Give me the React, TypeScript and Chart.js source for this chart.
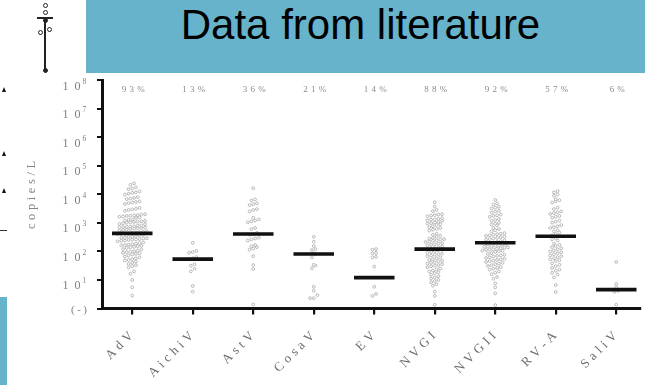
import React, { useEffect, useRef } from "react";
import { Chart, registerables } from "chart.js";

Chart.register(...registerables);

// ---------- data ----------
const categories = ["AdV", "AichiV", "AstV", "CosaV", "EV", "NVGI", "NVGII", "RV-A", "SaliV"];
const detectionRates = ["93%", "13%", "36%", "21%", "14%", "88%", "92%", "57%", "6%"];
// medians, log10(copies/L)
const medianLog = [2.63, 1.73, 2.61, 1.91, 1.08, 2.08, 2.30, 2.53, 0.66];
const yTickExponents = [1, 2, 3, 4, 5, 6, 7, 8];

// individual samples, log10(copies/L)
const advLog = [
  4.38, 4.33, 4.24, 4.2, 4.18, 4.1, 4.07, 4.05, 4.02, 3.99, 3.9, 3.87, 3.85, 3.83,
  3.75, 3.73, 3.71, 3.69, 3.66, 3.52, 3.49, 3.47, 3.45, 3.42,
  3.3, 3.29, 3.27, 3.26, 3.25, 3.24, 3.22, 3.21, 3.19, 3.17,
  3.12, 3.1, 3.08, 3.07, 3.05, 3.04, 3.03, 3.01, 3.0, 2.98, 2.96, 2.95,
  2.91, 2.9, 2.88, 2.87, 2.86, 2.85, 2.84, 2.83, 2.82, 2.81, 2.8, 2.78, 2.77, 2.75,
  2.72, 2.7, 2.68, 2.67, 2.66, 2.65, 2.63, 2.62, 2.61, 2.6, 2.58, 2.56,
  2.53, 2.51, 2.5, 2.48, 2.47, 2.46, 2.45, 2.43, 2.42, 2.41, 2.4, 2.38, 2.37, 2.35,
  2.31, 2.29, 2.27, 2.25, 2.24, 2.22, 2.21, 2.19, 2.18, 2.16, 2.14, 2.12,
  2.08, 2.06, 2.03, 2.01, 1.99, 1.97, 1.95, 1.93, 1.91, 1.89,
  1.85, 1.82, 1.79, 1.76, 1.73, 1.7, 1.68, 1.65,
  1.6, 1.56, 1.52, 1.48, 1.44, 1.3, 1.22, 1.0, 0.74, 0.45,
];
const aichivLog = [2.3, 2.02, 1.98, 1.95, 1.8, 1.76, 1.73, 1.55, 1.5, 1.39, 1.3, 0.79, 0.59];
const astvLog = [
  4.21, 3.82, 3.78, 3.68, 3.65, 3.62, 3.48, 3.45, 3.4, 3.18, 3.12, 3.08, 3.05, 3.02,
  2.82, 2.78, 2.65, 2.6, 2.58, 2.48, 2.45, 2.42, 2.38, 2.22, 2.18, 2.15, 2.1, 2.06,
  1.83, 1.52, 1.38, 0.14,
];
const cosavLog = [2.51, 2.34, 2.19, 2.08, 2.05, 1.93, 1.9, 1.79, 1.53, 1.5, 1.41, 0.76, 0.62, 0.47, 0.36, 0.36];
const evLog = [2.08, 2.06, 1.95, 1.93, 1.81, 1.79, 1.47, 0.76, 0.51, 0.44];
const nvgiLog = [
  3.72, 3.57, 3.45, 3.41, 3.3, 3.29, 3.27, 3.25, 3.23,
  3.16, 3.14, 3.12, 3.11, 3.09, 3.07, 3.03, 3.01, 2.99, 2.97, 2.95, 2.93,
  2.88, 2.85, 2.82, 2.79, 2.76, 2.73, 2.62, 2.58, 2.55, 2.51,
  2.47, 2.45, 2.43, 2.41, 2.39, 2.37, 2.35, 2.33, 2.29, 2.27, 2.25, 2.23, 2.21, 2.18,
  2.14, 2.12, 2.1, 2.08, 2.06, 2.04, 2.01, 1.98, 1.95, 1.92, 1.9, 1.88, 1.85, 1.83,
  1.79, 1.76, 1.73, 1.7, 1.67, 1.65, 1.62, 1.6, 1.57, 1.55, 1.52, 1.5, 1.48, 1.45,
  1.4, 1.37, 1.33, 1.3, 1.27, 1.24, 1.18, 1.13, 1.09, 1.05, 1.0, 0.96, 0.92,
  0.85, 0.8, 0.59, 0.44, 0.13,
];
const nvgiiLog = [
  3.8, 3.68, 3.64, 3.56, 3.53, 3.5, 3.42, 3.39, 3.36, 3.29, 3.26, 3.24, 3.21,
  3.13, 3.1, 3.07, 3.0, 2.97, 2.94, 2.91, 2.82, 2.78, 2.74, 2.7,
  2.64, 2.62, 2.6, 2.58, 2.56, 2.54, 2.52, 2.5, 2.47, 2.45, 2.43, 2.41, 2.39, 2.36,
  2.33, 2.31, 2.3, 2.28, 2.26, 2.24, 2.21, 2.2, 2.18, 2.17, 2.16, 2.14, 2.13, 2.11,
  2.09, 2.07, 2.06, 2.05, 2.03, 2.02, 2.0, 1.98, 1.94, 1.91, 1.88, 1.86, 1.84, 1.82, 1.79, 1.77,
  1.74, 1.72, 1.7, 1.68, 1.66, 1.63, 1.6, 1.57, 1.55, 1.52, 1.49,
  1.45, 1.42, 1.39, 1.36, 1.3, 1.25, 1.2, 1.1, 1.04, 0.88, 0.74, 0.53, 0.12,
];
const rvaLog = [
  4.11, 4.07, 3.99, 3.95, 3.83, 3.79, 3.75, 3.71, 3.53, 3.48, 3.4, 3.37, 3.34, 3.31,
  3.24, 3.21, 3.18, 3.08, 3.04, 3.0, 2.92, 2.88, 2.85, 2.82, 2.74, 2.7, 2.66,
  2.6, 2.56, 2.53, 2.47, 2.42, 2.38, 2.27, 2.23, 2.19, 2.15, 2.11,
  2.07, 2.03, 2.0, 1.97, 1.94, 1.9, 1.86, 1.83, 1.8, 1.76, 1.72, 1.69, 1.66,
  1.58, 1.53, 1.48, 1.42, 1.36, 1.32, 1.25, 1.19, 1.09, 0.82, 0.58,
];
const salivLog = [1.63, 0.86, 0.74, 0.62, 0.58, 0.13];

const seriesLog = [advLog, aichivLog, astvLog, cosavLog, evLog, nvgiLog, nvgiiLog, rvaLog, salivLog];

// ---------- layout helpers (scatter-dot-plot spreading) ----------
const PX_PER_CAT = 61.04;
const PX_PER_DEC = 28.56;
const DOT_GAP = 3.7;
const ROW_H = 3.4;

function swarm(values: number[], idx: number) {
  const sorted = [...values].sort((a, b) => a - b);
  const rows: number[][] = [];
  let cur: number[] = [];
  let start = -Infinity;
  for (const v of sorted) {
    const py = v * PX_PER_DEC;
    if (cur.length && py - start >= ROW_H) {
      rows.push(cur);
      cur = [];
    }
    if (!cur.length) start = py;
    cur.push(v);
  }
  if (cur.length) rows.push(cur);
  const pts: { x: number; y: number }[] = [];
  rows.forEach((r) => {
    r.forEach((v, k) => {
      const off = (k - (r.length - 1) / 2) * DOT_GAP;
      pts.push({ x: idx + off / PX_PER_CAT, y: Math.pow(10, v) });
    });
  });
  return pts;
}

function drawSpaced(
  ctx: CanvasRenderingContext2D,
  text: string,
  x: number,
  y: number,
  spacing: number,
  align: "left" | "right" | "center"
) {
  const chars = Array.from(text);
  const widths = chars.map((c) => ctx.measureText(c).width);
  const total = widths.reduce((a, b) => a + b, 0) + spacing * (chars.length - 1);
  let cx = align === "left" ? x : align === "right" ? x - total : x - total / 2;
  ctx.textAlign = "left";
  chars.forEach((c, i) => {
    ctx.fillText(c, cx, y);
    cx += widths[i] + spacing;
  });
}

const labelPlugin = {
  id: "labels",
  afterDraw(chart: any) {
    const ctx: CanvasRenderingContext2D = chart.ctx;
    const xs = chart.scales.x;
    const ys = chart.scales.y;
    ctx.save();
    // detection rates
    ctx.font = '9px "Liberation Serif", serif';
    ctx.fillStyle = "#8a8a8a";
    ctx.textBaseline = "middle";
    detectionRates.forEach((t, i) => {
      drawSpaced(ctx, t, xs.getPixelForValue(i) + 1, 90, 3.2, "center");
    });
    // y tick labels
    ctx.fillStyle = "#7e7e7e";
    ctx.textBaseline = "alphabetic";
    yTickExponents.forEach((p) => {
      const py = ys.getPixelForValue(Math.pow(10, p));
      ctx.font = '12px "Liberation Serif", serif';
      drawSpaced(ctx, "10", 80.5, py + 9.5, 6, "right");
      ctx.font = '7.5px "Liberation Serif", serif';
      ctx.textAlign = "left";
      ctx.fillText(String(p), 82.5, py + 3.5);
    });
    ctx.font = '11px "Liberation Serif", serif';
    ctx.textBaseline = "middle";
    drawSpaced(ctx, "(-)", 87, ys.getPixelForValue(1) + 1.5, 2.5, "right");
    // y title
    ctx.save();
    ctx.translate(32, 195);
    ctx.rotate(-Math.PI / 2);
    ctx.font = '12.5px "Liberation Serif", serif';
    ctx.fillStyle = "#868686";
    ctx.textBaseline = "middle";
    drawSpaced(ctx, "copies/L", 0, 0, 3.6, "center");
    ctx.restore();
    // x category labels
    ctx.font = '13px "Liberation Serif", serif';
    ctx.fillStyle = "#6c6c6c";
    categories.forEach((c, i) => {
      const px = xs.getPixelForValue(i);
      ctx.save();
      ctx.translate(px - 1, 334);
      ctx.rotate(-Math.PI / 4);
      ctx.textBaseline = "middle";
      drawSpaced(ctx, c, 0, 0, 4, "right");
      ctx.restore();
    });
    ctx.restore();
  },
};

export default function App() {
  const ref = useRef<HTMLCanvasElement | null>(null);

  useEffect(() => {
    if (!ref.current) return;
    const points = seriesLog.flatMap((s, i) => swarm(s, i));
    const medianPts: { x: number; y: number | null }[] = [];
    medianLog.forEach((m, i) => {
      medianPts.push({ x: i - 0.335, y: Math.pow(10, m) });
      medianPts.push({ x: i + 0.335, y: Math.pow(10, m) });
      medianPts.push({ x: i + 0.5, y: null });
    });
    const chart = new Chart(ref.current, {
      type: "scatter",
      data: {
        datasets: [
          {
            type: "line",
            data: medianPts as any,
            borderColor: "#111111",
            borderWidth: 3.6,
            pointRadius: 0,
            spanGaps: false,
            borderCapStyle: "butt",
          } as any,
          {
            type: "scatter",
            data: points,
            pointRadius: 1.4,
            pointBorderWidth: 0.8,
            borderColor: "#a8a8a8",
            backgroundColor: "rgba(255,255,255,0.95)",
          } as any,
        ],
      },
      options: {
        animation: false,
        responsive: false,
        layout: { padding: { left: 102, top: 80, right: 0, bottom: 76.5 } },
        plugins: { legend: { display: false }, tooltip: { enabled: false } },
        scales: {
          x: {
            type: "linear",
            min: -0.5,
            max: 8.396,
            afterFit(s: any) {
              s.height = 0;
            },
            afterBuildTicks(s: any) {
              s.ticks = categories.map((_, i) => ({ value: i }));
            },
            ticks: { display: false },
            grid: { drawOnChartArea: false, drawTicks: true, tickLength: 6, lineWidth: 2.2, color: "#111" },
            border: { color: "#111", width: 3 },
          },
          y: {
            type: "logarithmic",
            min: 1,
            max: 1e8,
            afterFit(s: any) {
              s.width = 0;
            },
            afterBuildTicks(s: any) {
              s.ticks = [0, ...yTickExponents].map((p) => ({ value: Math.pow(10, p) }));
            },
            ticks: { display: false },
            grid: { drawOnChartArea: false, drawTicks: true, tickLength: 5, lineWidth: 2, color: "#111" },
            border: { color: "#111", width: 3 },
          },
        },
      } as any,
      plugins: [labelPlugin],
    });
    return () => chart.destroy();
  }, []);

  const blue = "#67b3cc";
  const circle = (cx: number, cy: number, filled = false) => (
    <div
      style={{
        position: "absolute",
        left: cx - 2.5,
        top: cy - 2.5,
        width: 5,
        height: 5,
        boxSizing: "border-box",
        borderRadius: "50%",
        border: "1.3px solid #222",
        background: filled ? "#222" : "#fff",
      }}
    />
  );
  const tri = (cx: number, cy: number) => (
    <div
      style={{
        position: "absolute",
        left: cx - 2.5,
        top: cy - 2.5,
        width: 0,
        height: 0,
        borderLeft: "2.5px solid transparent",
        borderRight: "2.5px solid transparent",
        borderBottom: "5px solid #111",
      }}
    />
  );

  return (
    <div
      style={{
        position: "fixed",
        left: 0,
        top: 0,
        width: 645,
        height: 385,
        overflow: "hidden",
        background: "#fff",
      }}
    >
      <canvas ref={ref} width={645} height={385} style={{ position: "absolute", left: 0, top: 0, display: "block" }} />
      {/* title banner */}
      <div
        style={{
          position: "absolute",
          left: 86,
          top: 0,
          width: 559,
          height: 73,
          background: blue,
        }}
      >
        <div
          style={{
            position: "absolute",
            left: 0,
            top: 3.5,
            width: 549,
            textAlign: "center",
            fontFamily: '"Liberation Sans", Arial, sans-serif',
            fontSize: 42,
            lineHeight: "42px",
            color: "#000",
            whiteSpace: "nowrap",
          }}
        >
          Data from literature
        </div>
      </div>
      <div style={{ position: "absolute", left: 0, top: 297, width: 7, height: 88, background: blue }} />
      {/* fragment of neighbouring panel */}
      <div style={{ position: "absolute", left: 44.3, top: 18, width: 1.5, height: 52, background: "#222" }} />
      <div style={{ position: "absolute", left: 37, top: 17.3, width: 16, height: 1.5, background: "#222" }} />
      {circle(45, 5)}
      {circle(45, 12)}
      {circle(45, 20, true)}
      {circle(40, 32)}
      {circle(49.5, 29)}
      {circle(45, 70, true)}
      {tri(4, 89)}
      {tri(4, 153)}
      {tri(4, 190)}
      <div style={{ position: "absolute", left: 0, top: 230, width: 7, height: 1, background: "#333" }} />
    </div>
  );
}
